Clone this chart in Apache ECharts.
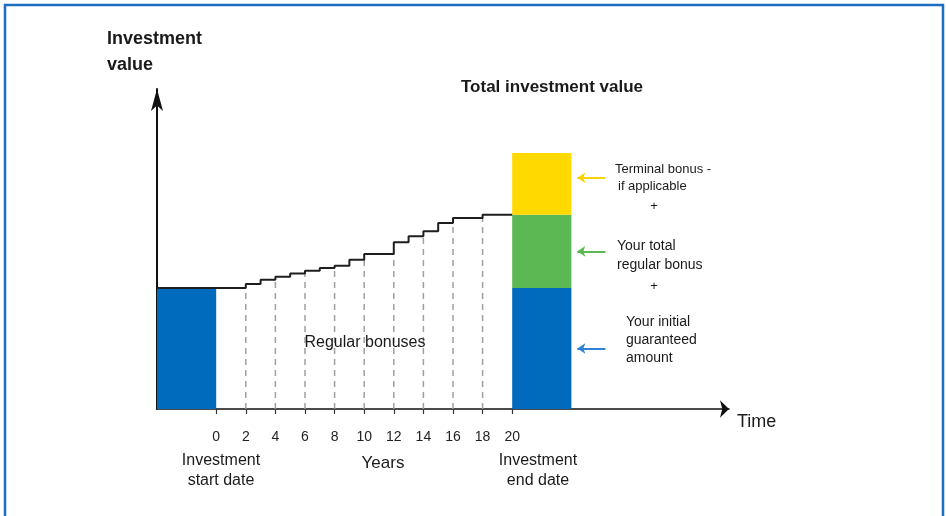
<!DOCTYPE html>
<html>
<head>
<meta charset="utf-8">
<script src="https://cdn.jsdelivr.net/npm/echarts@6/dist/echarts.min.js"></script>
<style>html,body{margin:0;padding:0;background:#fff}#c{width:946px;height:516px}</style>
</head>
<body>
<div id="c"></div>
<script>
// ---- data ----
const stepYears  = [-4, 2, 3, 4, 5, 6, 7, 8, 9, 10, 12, 13, 14, 15, 16, 18, 20];
const stepValues = [100, 103.3, 106.9, 109.3, 112.1, 114.3, 116.5, 118.4, 123.4, 128.1, 137.8, 142.7, 146.9, 153.7, 157.9, 160.6, 160.6];
const tickYears  = [0, 2, 4, 6, 8, 10, 12, 14, 16, 18, 20];
const dashYears  = [2, 4, 6, 8, 10, 12, 14, 16, 18];
const startBlock = { from: -4, to: 0, value: 100 };
const endBlock   = { from: 20, to: 24 };
const segNames   = ['guaranteed', 'regular', 'terminal'];
const segValues  = [100, 60.6, 51];
const arrowFromX = 26.3, arrowToX = 24.4;

// ---- styles ----
const segColors   = ['#006bbd', '#5cb853', '#ffd900'];
const arrowColors = ['#2f82d6', '#5cb853', '#f7d300'];
const FONT = '"Liberation Sans", Arial, sans-serif';

function levelBefore(year) {
  let v = stepValues[0];
  for (let i = 0; i < stepYears.length; i++) {
    if (stepYears[i] < year) v = stepValues[i];
  }
  return v;
}

const blockData = [[startBlock.from, startBlock.to, 0, startBlock.value, 0]];
let acc = 0;
segValues.forEach((v, i) => {
  blockData.push([endBlock.from, endBlock.to, acc, acc + v, i]);
  acc += v;
});
const arrowLines = [];
acc = 0;
segValues.forEach((v, i) => {
  const mid = acc + v / 2 + (i === 2 ? 5 : 0);
  arrowLines.push([
    { coord: [arrowFromX, mid], lineStyle: { color: arrowColors[i] }, itemStyle: { color: arrowColors[i] } },
    { coord: [arrowToX, mid] }
  ]);
  acc += v;
});

const chart = echarts.init(document.getElementById('c'), null, { renderer: 'canvas' });

function txt(x, y, text, size, weight, align) {
  return {
    type: 'text', x: x, y: y, z: 100,
    style: { text: text, fontSize: size, fontWeight: weight || 'normal', fontFamily: FONT,
      fill: '#1a1a1a', align: align || 'left', verticalAlign: 'middle' }
  };
}

const option = {
  animation: false,
  grid: { left: 157, right: 217, top: 89, bottom: 107 },
  xAxis: {
    type: 'value', min: -4, max: 34.65,
    splitLine: { show: false },
    axisLine: { onZero: false, lineStyle: { color: '#111', width: 1.6 }, symbol: ['none', 'arrow'], symbolSize: [13, 9] },
    axisTick: { customValues: tickYears, length: 5, lineStyle: { color: '#333', width: 1.2 } },
    axisLabel: {
      customValues: tickYears, margin: 21, fontSize: 14, color: '#222', fontFamily: FONT
    }
  },
  yAxis: {
    type: 'value', min: 0, max: 264.5,
    splitLine: { show: false },
    axisLine: { show: true, onZero: false, lineStyle: { color: '#111', width: 2 }, symbol: ['none', 'arrow'], symbolSize: [9, 22] },
    axisTick: { show: false },
    axisLabel: { show: false }
  },
  series: [
    {
      type: 'custom', name: 'dashes', z: 1,
      data: dashYears.map(y => [y, levelBefore(y)]),
      renderItem: function (params, api) {
        const p0 = api.coord([api.value(0), 0]);
        const p1 = api.coord([api.value(0), api.value(1)]);
        return { type: 'line', shape: { x1: p0[0], y1: p0[1], x2: p1[0], y2: p1[1] },
          style: { stroke: '#a0a0a0', lineWidth: 1.5, lineDash: [6, 5] } };
      }
    },
    {
      type: 'custom', name: 'blocks', z: 2,
      data: blockData,
      renderItem: function (params, api) {
        const p0 = api.coord([api.value(0), api.value(3)]);
        const p1 = api.coord([api.value(1), api.value(2)]);
        return { type: 'rect', shape: { x: p0[0], y: p0[1], width: p1[0] - p0[0], height: p1[1] - p0[1] },
          style: { fill: segColors[api.value(4)] } };
      },
      markLine: {
        silent: true, symbol: ['none', 'arrow'], symbolSize: 8,
        label: { show: false },
        lineStyle: { width: 2, type: 'solid' },
        data: arrowLines
      }
    },
    {
      type: 'line', name: 'step', z: 3, step: 'end', showSymbol: false,
      data: stepYears.map((y, i) => [y, stepValues[i]]),
      lineStyle: { color: '#1e1e1e', width: 2 }
    }
  ],
  graphic: [
    { type: 'rect', shape: { x: 5, y: 5, width: 938, height: 560 },
      style: { fill: 'none', stroke: '#1b6ec2', lineWidth: 2.5 }, z: 100 },
    txt(107, 39, 'Investment', 18, 'bold'),
    txt(107, 65, 'value', 18, 'bold'),
    txt(461, 87, 'Total investment value', 17, 'bold'),
    txt(737, 422, 'Time', 18, 'normal'),
    txt(365, 343, 'Regular bonuses', 16, 'normal', 'center'),
    txt(221, 461, 'Investment', 16, 'normal', 'center'),
    txt(221, 481, 'start date', 16, 'normal', 'center'),
    txt(383, 463, 'Years', 17, 'normal', 'center'),
    txt(538, 461, 'Investment', 16, 'normal', 'center'),
    txt(538, 481, 'end date', 16, 'normal', 'center'),
    txt(615, 169, 'Terminal bonus -', 13, 'normal'),
    txt(618, 186, 'if applicable', 13, 'normal'),
    txt(654, 206, '+', 13, 'normal', 'center'),
    txt(617, 246, 'Your total', 14, 'normal'),
    txt(617, 265, 'regular bonus', 14, 'normal'),
    txt(654, 286, '+', 13, 'normal', 'center'),
    txt(626, 322, 'Your initial', 14, 'normal'),
    txt(626, 340, 'guaranteed', 14, 'normal'),
    txt(626, 358, 'amount', 14, 'normal')
  ]
};
chart.setOption(option);
</script>
</body>
</html>
